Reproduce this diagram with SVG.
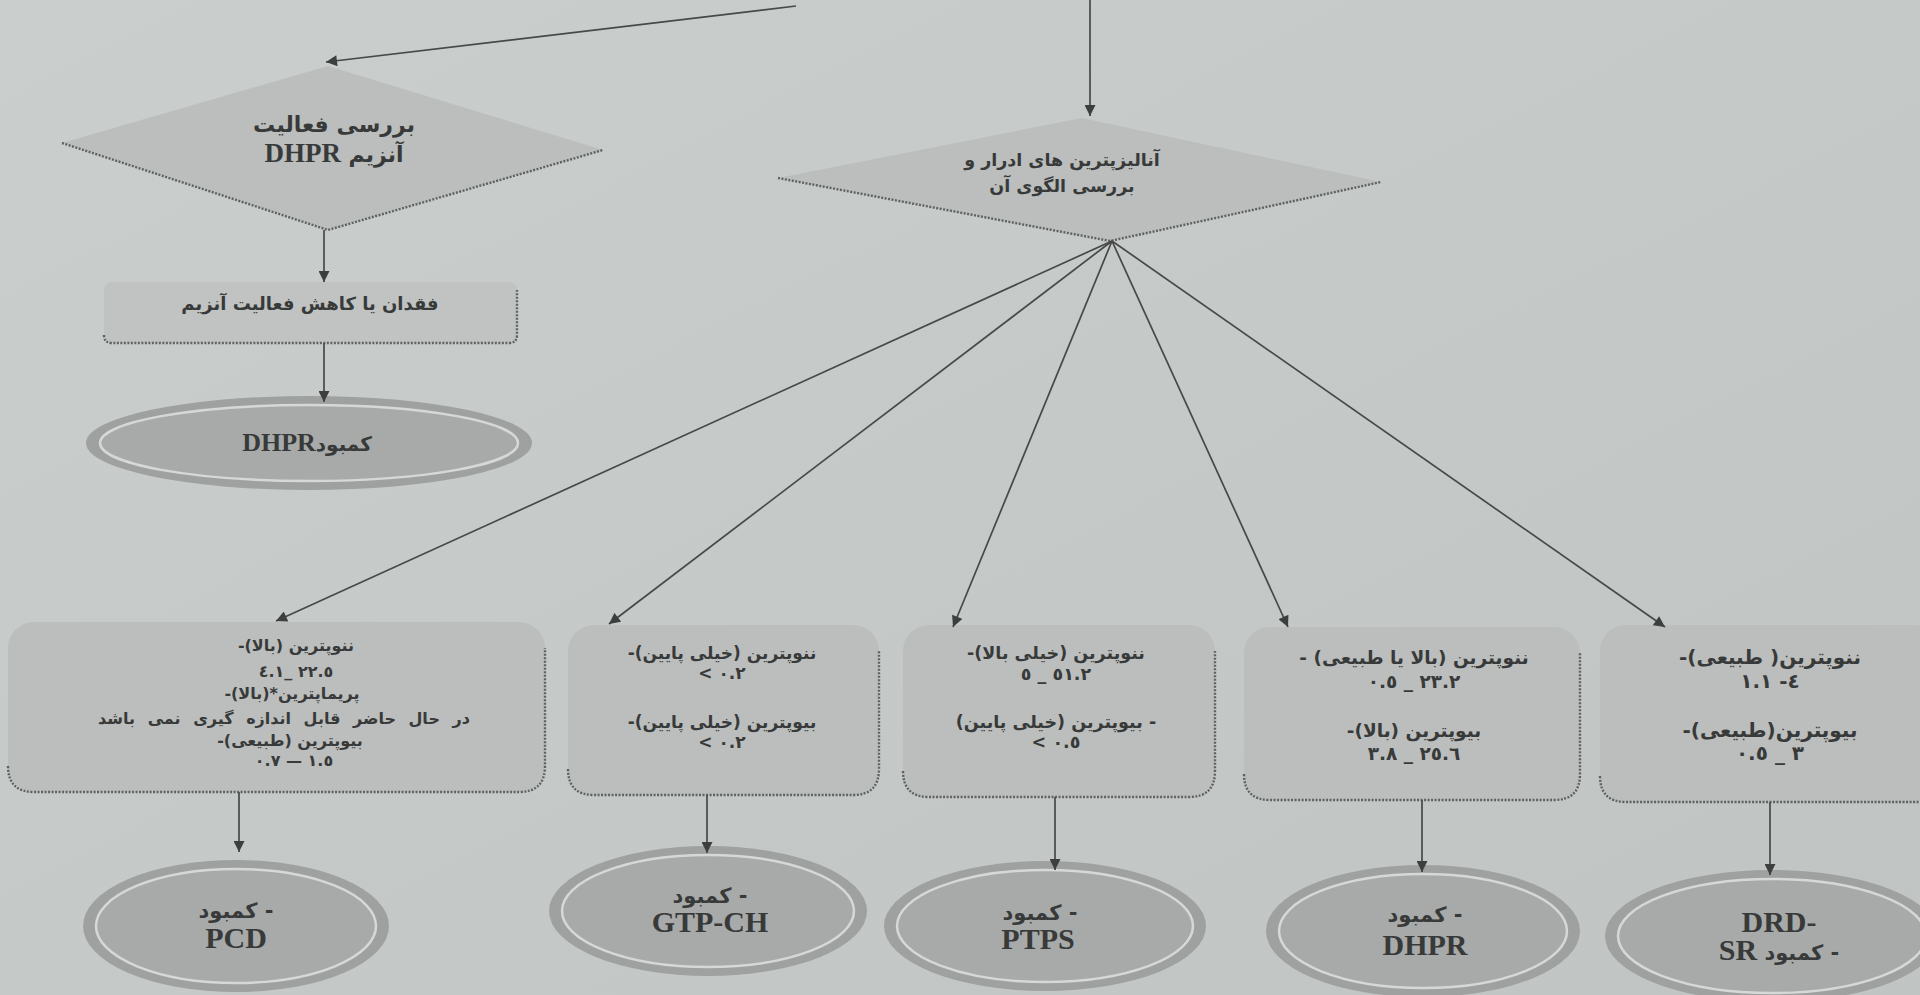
<svg xmlns="http://www.w3.org/2000/svg" width="1920" height="995" viewBox="0 0 1920 995">
<defs>
<linearGradient id="bgg" x1="0" y1="0" x2="1" y2="1">
<stop offset="0" stop-color="#cacecd"/>
<stop offset="1" stop-color="#c0c4c3"/>
</linearGradient>
<marker id="ah" viewBox="0 0 10 10" refX="10" refY="5" markerWidth="13" markerHeight="11" markerUnits="userSpaceOnUse" orient="auto">
<path d="M0,0 L10,5 L0,10 z" fill="#3d3f3f"/>
</marker>
<style>
.shape{fill:#bbbebd}
.rect{fill:#c0c3c2}
.edge{fill:none;stroke:#5f6262;stroke-width:2.4;stroke-dasharray:2 1.5}
.conn{fill:none;stroke:#474949;stroke-width:1.7;marker-end:url(#ah)}
.ring{fill:#9fa1a0}
.inner{fill:#a8aaa9;stroke:#d6d8d7;stroke-width:2.5}
.fa{font-family:"DejaVu Sans",sans-serif;font-weight:bold;fill:#383a3a;direction:rtl;text-anchor:middle;font-size:16px}
.num{font-family:"DejaVu Sans",sans-serif;font-weight:bold;fill:#383a3a;direction:ltr;text-anchor:middle;font-size:16px}
.lat{font-family:"Liberation Serif",serif;font-weight:bold}
.big{font-family:"Liberation Serif",serif;font-weight:bold;fill:#383a3a;text-anchor:middle;font-size:30px}
</style>
</defs>
<rect class="bg" x="0" y="0" width="1920" height="995" fill="url(#bgg)"/>

<g id="diamond-dhpr">
<polygon class="shape" points="328,66 603,150 328,230 62,143"/>
<path class="edge" d="M62,143 L328,230 L603,150"/>
<text class="fa" x="334" y="132" style="font-size:22px">بررسی فعالیت</text>
<text class="fa" x="334" y="162" style="font-size:22px">آنزیم <tspan class="lat" style="font-size:27px">DHPR</tspan></text>
</g>

<g id="rect-loss">
<rect class="rect" x="104" y="282" width="413" height="61" rx="8"/>
<path class="edge" d="M104,335 Q104,343 112,343 L509,343 Q517,343 517,335 L517,290"/>
<text class="fa" x="310" y="310" style="font-size:18px">فقدان یا کاهش فعالیت آنزیم</text>
</g>

<g id="ellipse-dhpr-top">
<ellipse class="ring" cx="309" cy="443" rx="223" ry="47"/>
<ellipse class="inner" cx="309" cy="443" rx="209" ry="38"/>
<text class="fa" x="307" y="451" style="font-size:20px">کمبود<tspan class="lat" style="font-size:26px">DHPR</tspan></text>
</g>

<g id="diamond-urine">
<polygon class="shape" points="1082,118 1381,182 1110,241 778,178"/>
<path class="edge" d="M778,178 L1110,241 L1381,182"/>
<text class="fa" x="1062" y="166" style="font-size:17.5px">آنالیزپترین های ادرار و</text>
<text class="fa" x="1062" y="192" style="font-size:17.5px">بررسی الگوی آن</text>
</g>

<g id="box1">
<rect class="shape" x="8" y="622" width="537" height="170" rx="26"/>
<path class="edge" d="M8,766 Q8,792 34,792 L519,792 Q545,792 545,766 L545,648"/>
<text class="fa" x="296" y="651">ننوپترین (بالا)-</text>
<text class="num" x="296" y="677">٤.١&#x200E;_ ٢٢.٥</text>
<text class="fa" x="292" y="699">پریماپترین*(بالا)-</text>
<text class="fa" x="284" y="724" style="word-spacing:7px">در حال حاضر قابل اندازه گیری نمی باشد</text>
<text class="fa" x="290" y="746">بیوپترین (طبیعی)-</text>
<text class="num" x="294" y="766">٠.٧&#x200E; — ١.٥</text>
</g>

<g id="box2">
<rect class="shape" x="568" y="625" width="311" height="170" rx="26"/>
<path class="edge" d="M568,769 Q568,795 594,795 L853,795 Q879,795 879,769 L879,651"/>
<text class="fa" x="722" y="659" style="font-size:17px">ننوپترین (خیلی پایین)-</text>
<text class="num" x="722" y="679" style="font-size:17px">&lt; ٠.٢</text>
<text class="fa" x="722" y="728" style="font-size:17px">بیوپترین (خیلی پایین)-</text>
<text class="num" x="722" y="748" style="font-size:17px">&lt; ٠.٢</text>
</g>

<g id="box3">
<rect class="shape" x="903" y="625" width="312" height="172" rx="26"/>
<path class="edge" d="M903,771 Q903,797 929,797 L1189,797 Q1215,797 1215,771 L1215,651"/>
<text class="fa" x="1056" y="659" style="font-size:17.5px">ننوپترین (خیلی بالا)-</text>
<text class="num" x="1056" y="680" style="font-size:17.5px">٥&#x200E; _ ٥١.٢</text>
<text class="fa" x="1056" y="728" style="font-size:17.5px">- بیوپترین (خیلی پایین)</text>
<text class="num" x="1056" y="748" style="font-size:17.5px">&lt; ٠.٥</text>
</g>

<g id="box4">
<rect class="shape" x="1244" y="627" width="336" height="173" rx="26"/>
<path class="edge" d="M1244,774 Q1244,800 1270,800 L1554,800 Q1580,800 1580,774 L1580,653"/>
<text class="fa" x="1414" y="664" style="font-size:18.5px">ننوپترین (بالا یا طبیعی) -</text>
<text class="num" x="1414" y="688" style="font-size:18.5px">٠.٥&#x200E; _ ٢٣.٢</text>
<text class="fa" x="1414" y="737" style="font-size:18.5px">بیوپترین (بالا)-</text>
<text class="num" x="1414" y="760" style="font-size:18.5px">٣.٨&#x200E; _ ٢٥.٦</text>
</g>

<g id="box5">
<rect class="shape" x="1600" y="625" width="340" height="177" rx="26"/>
<path class="edge" d="M1600,776 Q1600,802 1626,802 L1920,802"/>
<text class="fa" x="1770" y="664" style="font-size:20px">ننوپترین( طبیعی)-</text>
<text class="num" x="1770" y="688" style="font-size:20px">١.١&#x200E; -٤</text>
<text class="fa" x="1770" y="737" style="font-size:20px">بیوپترین(طبیعی)-</text>
<text class="num" x="1770" y="760" style="font-size:20px">٠.٥&#x200E; _ ٣</text>
</g>

<g id="ellipse-pcd">
<ellipse class="ring" cx="236" cy="926" rx="153" ry="66"/>
<ellipse class="inner" cx="236" cy="926" rx="140" ry="57"/>
<text class="fa" x="236" y="918" style="font-size:21px">- کمبود</text>
<text class="big" x="236" y="948">PCD</text>
</g>

<g id="ellipse-gtpch">
<ellipse class="ring" cx="708" cy="911" rx="159" ry="65"/>
<ellipse class="inner" cx="708" cy="911" rx="146" ry="56"/>
<text class="fa" x="710" y="903" style="font-size:21px">- کمبود</text>
<text class="big" x="710" y="932">GTP-CH</text>
</g>

<g id="ellipse-ptps">
<ellipse class="ring" cx="1045" cy="926" rx="161" ry="65"/>
<ellipse class="inner" cx="1045" cy="926" rx="148" ry="56"/>
<text class="fa" x="1040" y="920" style="font-size:21px">- کمبود</text>
<text class="big" x="1038" y="949">PTPS</text>
</g>

<g id="ellipse-dhpr">
<ellipse class="ring" cx="1423" cy="931" rx="157" ry="66"/>
<ellipse class="inner" cx="1423" cy="931" rx="144" ry="57"/>
<text class="fa" x="1425" y="922" style="font-size:21px">- کمبود</text>
<text class="big" x="1425" y="955">DHPR</text>
</g>

<g id="ellipse-drd-sr">
<ellipse class="ring" cx="1772" cy="936" rx="167" ry="66"/>
<ellipse class="inner" cx="1772" cy="936" rx="154" ry="57"/>
<text class="fa" x="1779" y="932"><tspan class="lat" style="font-size:30px">-DRD</tspan></text>
<text class="fa" x="1779" y="960" style="font-size:21px">- کمبود <tspan class="lat" style="font-size:30px">SR</tspan></text>
</g>

<g id="connectors">
<line class="conn" x1="796" y1="6" x2="326" y2="62"/>
<line class="conn" x1="1090" y1="0" x2="1090" y2="116"/>
<line class="conn" x1="324" y1="230" x2="324" y2="282"/>
<line class="conn" x1="324" y1="343" x2="324" y2="402"/>
<line class="conn" x1="1112" y1="241" x2="276" y2="621"/>
<line class="conn" x1="1112" y1="241" x2="609" y2="624"/>
<line class="conn" x1="1112" y1="241" x2="953" y2="627"/>
<line class="conn" x1="1112" y1="241" x2="1288" y2="627"/>
<line class="conn" x1="1112" y1="241" x2="1665" y2="627"/>
<line class="conn" x1="239" y1="792" x2="239" y2="852"/>
<line class="conn" x1="707" y1="795" x2="707" y2="853"/>
<line class="conn" x1="1055" y1="797" x2="1055" y2="870"/>
<line class="conn" x1="1422" y1="800" x2="1422" y2="872"/>
<line class="conn" x1="1770" y1="802" x2="1770" y2="875"/>
</g>
</svg>
